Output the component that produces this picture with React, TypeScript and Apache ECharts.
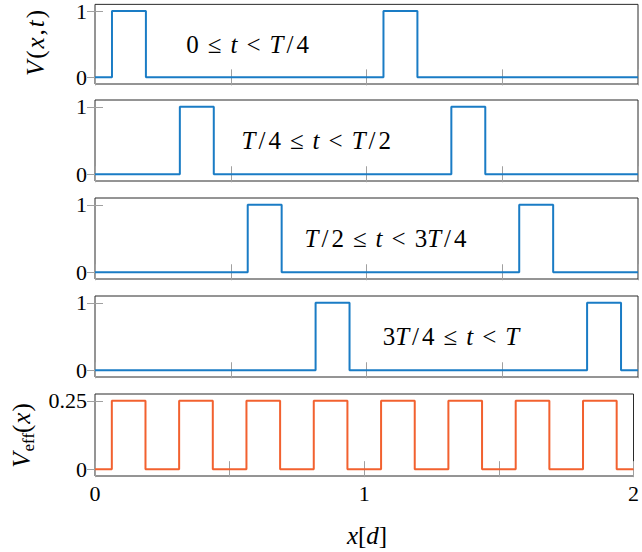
import React, { useEffect, useRef } from "react";
import * as echarts from "echarts";

// ---- data ----
const xTicks = [0, 0.5, 1, 1.5, 2];
const xTickLabels = [0, 1, 2];
const vTicks = [0, 1];
const veffTicks = [0, 0.25];

// step points [x, y]; value holds until next point
const pulse1 = [[0, 0], [0.0625, 1], [0.1875, 0], [1.0625, 1], [1.1875, 0], [2, 0]];
const pulse2 = [[0, 0], [0.3125, 1], [0.4375, 0], [1.3125, 1], [1.4375, 0], [2, 0]];
const pulse3 = [[0, 0], [0.5625, 1], [0.6875, 0], [1.5625, 1], [1.6875, 0], [2, 0]];
const pulse4 = [[0, 0], [0.8125, 1], [0.9375, 0], [1.8125, 1], [1.9375, 0], [2, 0]];
const veff = [
  [0, 0], [0.0625, 0.25], [0.1875, 0], [0.3125, 0.25], [0.4375, 0], [0.5625, 0.25],
  [0.6875, 0], [0.8125, 0.25], [0.9375, 0], [1.0625, 0.25], [1.1875, 0], [1.3125, 0.25],
  [1.4375, 0], [1.5625, 0.25], [1.6875, 0], [1.8125, 0.25], [1.9375, 0], [2, 0],
];
const panelLabels = [
  "{n|0}{r|≤}{i|t}{r|<}{i|T}{s|/}{n|4}",
  "{i|T}{s|/}{n|4}{r|≤}{i|t}{r|<}{i|T}{s|/}{n|2}",
  "{i|T}{s|/}{n|2}{r|≤}{i|t}{r|<}{n|3}{i|T}{s|/}{n|4}",
  "{n|3}{i|T}{s|/}{n|4}{r|≤}{i|t}{r|<}{i|T}",
];
const panelLabelPos = [[0.562, 0.5], [0.815, 0.5], [1.07, 0.5], [1.311, 0.5]];

const BLUE = "#1a7cc5";
const ORANGE = "#f2612f";
const FONT = "'Liberation Serif', 'DejaVu Serif', serif";
const TICK_COLOR = "#a0a0a0";

const richMath = {
  n: { fontFamily: FONT, fontSize: 25, color: "#000" },
  i: { fontFamily: FONT, fontSize: 25, fontStyle: "italic", color: "#000" },
  s: { fontFamily: FONT, fontSize: 25, color: "#000", padding: [0, 3] },
  r: { fontFamily: FONT, fontSize: 25, color: "#000", padding: [0, 9] },
};

export default function App() {
  const ref = useRef<HTMLDivElement>(null);
  useEffect(() => {
    if (!ref.current) return;
    const chart = echarts.init(ref.current, null, { renderer: "svg" });
    const tops = [3, 100, 198, 296, 394];
    const heights = [81, 81, 81, 81, 82];
    const pulses = [pulse1, pulse2, pulse3, pulse4, veff];
    const grids: any[] = [];
    const xAxes: any[] = [];
    const yAxes: any[] = [];
    const series: any[] = [];
    tops.forEach((top, k) => {
      const isV = k < 4;
      const last = k === 4;
      grids.push({
        left: 95,
        width: 543,
        top,
        height: heights[k],
        show: true,
        borderColor: "#2a2a2a",
        borderWidth: 1,
        backgroundColor: "transparent",
      });
      const xBase = {
        type: "value",
        gridIndex: k,
        min: 0,
        max: 2,
        splitLine: { show: false },
        axisLine: { show: false },
        axisTick: {
          show: true,
          inside: true,
          length: 8,
          customValues: xTicks,
          lineStyle: { color: TICK_COLOR, width: 1 },
        },
      };
      xAxes.push({
        ...xBase,
        position: "bottom",
        axisLabel: last
          ? {
              show: true,
              customValues: xTickLabels,
              fontFamily: FONT,
              fontSize: 22,
              color: "#000",
              margin: 6,
            }
          : { show: false },
      });
      xAxes.push({ ...xBase, position: "top", axisLabel: { show: false } });
      const yBase = {
        type: "value",
        gridIndex: k,
        min: isV ? -0.1 : -0.025,
        max: isV ? 1.1 : 0.275,
        splitLine: { show: false },
        axisLine: { show: false },
        axisTick: {
          show: true,
          inside: true,
          length: 8,
          customValues: isV ? vTicks : veffTicks,
          lineStyle: { color: TICK_COLOR, width: 1 },
        },
      };
      yAxes.push({
        ...yBase,
        position: "left",
        axisLabel: {
          show: true,
          customValues: isV ? vTicks : veffTicks,
          fontFamily: FONT,
          fontSize: 22,
          color: "#000",
          margin: 8,
        },
      });
      yAxes.push({ ...yBase, position: "right", axisLabel: { show: false } });
      const s: any = {
        type: "line",
        xAxisIndex: 2 * k,
        yAxisIndex: 2 * k,
        data: pulses[k],
        step: "end",
        showSymbol: false,
        symbol: "none",
        lineStyle: { color: isV ? BLUE : ORANGE, width: 2 },
        itemStyle: { color: isV ? BLUE : ORANGE },
      };
      if (isV) {
        s.markPoint = {
          symbol: "rect",
          symbolSize: 1,
          itemStyle: { color: "rgba(0,0,0,0)" },
          data: [
            {
              coord: panelLabelPos[k],
              label: {
                show: true,
                position: "inside",
                formatter: panelLabels[k],
                rich: richMath,
              },
            },
          ],
        };
      }
      series.push(s);
    });

    chart.setOption({
      animation: false,
      backgroundColor: "#fff",
      grid: grids,
      xAxis: xAxes,
      yAxis: yAxes,
      series,
      graphic: [
        {
          type: "text",
          x: 35,
          y: 44,
          rotation: Math.PI / 2,
          style: {
            text: "{i|V}{n|(}{i|x}{n|,}{i|t}{n|)}",
            align: "center",
            verticalAlign: "middle",
            rich: {
              n: { fontFamily: FONT, fontSize: 25, color: "#000" },
              i: { fontFamily: FONT, fontSize: 25, fontStyle: "italic", color: "#000", padding: [0, 2] },
            },
          },
        },
        {
          type: "text",
          x: 21,
          y: 436,
          rotation: Math.PI / 2,
          style: {
            text: "{i|V}{s|eff}{n|(}{i|x}{n|)}",
            align: "center",
            verticalAlign: "middle",
            rich: {
              n: { fontFamily: FONT, fontSize: 25, lineHeight: 32, color: "#000" },
              i: { fontFamily: FONT, fontSize: 25, lineHeight: 32, fontStyle: "italic", color: "#000", padding: [0, 1] },
              s: { fontFamily: FONT, fontSize: 17, lineHeight: 16, verticalAlign: "bottom", color: "#000" },
            },
          },
        },
        {
          type: "text",
          x: 367,
          y: 535,
          style: {
            text: "{i|x}{n|[}{i|d}{n|]}",
            align: "center",
            verticalAlign: "middle",
            rich: {
              n: { fontFamily: FONT, fontSize: 25, color: "#000" },
              i: { fontFamily: FONT, fontSize: 25, fontStyle: "italic", color: "#000" },
            },
          },
        },
      ],
    });
    return () => chart.dispose();
  }, []);
  return (
    <div
      ref={ref}
      style={{ position: "fixed", left: 0, top: 0, width: 642, height: 552 }}
    />
  );
}
